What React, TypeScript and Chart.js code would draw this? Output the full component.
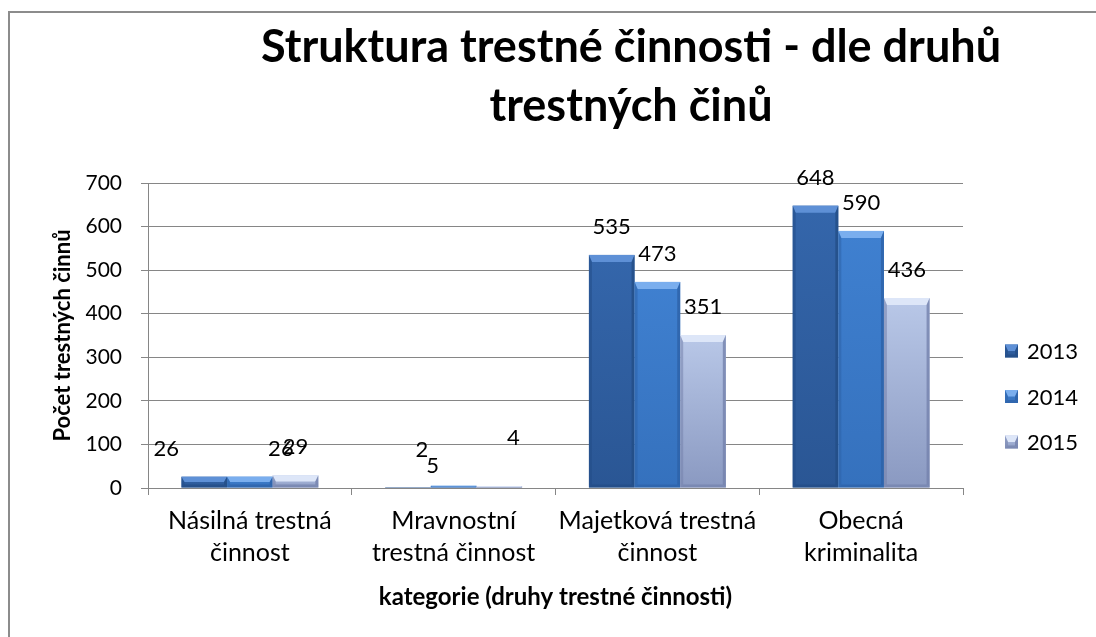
import { useEffect, useRef } from "react";
import { Chart, registerables } from "chart.js";

Chart.register(...registerables);

// ---- data ----
const categories: string[][] = [
  ["Násilná trestná", "činnost"],
  ["Mravnostní", "trestná činnost"],
  ["Majetková trestná", "činnost"],
  ["Obecná", "kriminalita"],
];
const years = ["2013", "2014", "2015"];
const values2013 = [26, 2, 535, 648];
const values2014 = [26, 5, 473, 590];
const values2015 = [29, 4, 351, 436];
const yMin = 0;
const yMax = 700;
const yStep = 100;
const chartTitle = ["Struktura trestné činnosti - dle druhů", "trestných činů"];
const yTitle = "Počet trestných činnů";
const xTitle = "kategorie (druhy trestné činnosti)";

// ---- styles ----
const FONT = "Lato";
const barColors = [
  { top: "#3466ab", bottom: "#2a5694", bevel: "#5e90d6", side: "#234d86" },
  { top: "#3f80d0", bottom: "#3571bd", bevel: "#7aaeee", side: "#2d62a8" },
  { top: "#b9c8e8", bottom: "#8a99c1", bevel: "#dde6f8", side: "#7482ac" },
];
// label nudges (px) per dataset / category, mimicking the original label placement
const labelNudges = [
  [[-38, 0], [14, -9], [0, 0], [0, 0]],
  [[31, 0], [-21, 8], [0, 0], [0, 0]],
  [[0, 0], [14, -20], [0, 0], [0, 0]],
];

function drawBevelBox(ctx: CanvasRenderingContext2D, l: number, t: number, r: number, b: number, c: any) {
  const h = b - t;
  const w = r - l;
  if (h <= 0 || w <= 0) return;
  const g = ctx.createLinearGradient(0, t, 0, b);
  g.addColorStop(0, c.top);
  g.addColorStop(1, c.bottom);
  ctx.fillStyle = g;
  ctx.fillRect(l, t, w, h);
  const tv = Math.min(7, h / 2);
  const sv = Math.min(3, w / 2, h / 2);
  const bv = Math.min(3, h / 2);
  ctx.fillStyle = c.bevel;
  ctx.beginPath();
  ctx.moveTo(l, t);
  ctx.lineTo(r, t);
  ctx.lineTo(r - sv, t + tv);
  ctx.lineTo(l + sv, t + tv);
  ctx.closePath();
  ctx.fill();
  ctx.fillStyle = c.side;
  ctx.globalAlpha = 0.55;
  ctx.beginPath();
  ctx.moveTo(l, t);
  ctx.lineTo(l + sv, t + tv);
  ctx.lineTo(l + sv, b - bv);
  ctx.lineTo(l, b);
  ctx.closePath();
  ctx.fill();
  ctx.globalAlpha = 0.8;
  ctx.beginPath();
  ctx.moveTo(r, t);
  ctx.lineTo(r - sv, t + tv);
  ctx.lineTo(r - sv, b - bv);
  ctx.lineTo(r, b);
  ctx.closePath();
  ctx.fill();
  ctx.globalAlpha = 0.7;
  ctx.beginPath();
  ctx.moveTo(l, b);
  ctx.lineTo(r, b);
  ctx.lineTo(r - sv, b - bv);
  ctx.lineTo(l + sv, b - bv);
  ctx.closePath();
  ctx.fill();
  ctx.globalAlpha = 1;
}

const decorPlugin = {
  id: "decor",
  beforeDraw(chart: any) {
    const ctx = chart.ctx;
    ctx.save();
    ctx.fillStyle = "#ffffff";
    ctx.fillRect(0, 0, chart.width, chart.height);
    ctx.strokeStyle = "#8c8c8c";
    ctx.lineWidth = 2;
    ctx.strokeRect(9, 12, chart.width + 20, chart.height + 20);
    ctx.fillStyle = "#000";
    ctx.font = `bold 45px ${FONT}`;
    ctx.textAlign = "center";
    ctx.textBaseline = "middle";
    ctx.fillText(chartTitle[0], 631, 47);
    ctx.fillText(chartTitle[1], 631, 106);
    ctx.font = `22px ${FONT}`;
    ctx.textAlign = "left";
    years.forEach((yr, i) => {
      const cy = 351 + i * 45.5;
      drawBevelBox(ctx, 1005, cy - 6.5, 1018, cy + 6.5, barColors[i]);
      ctx.fillStyle = "#000";
      ctx.fillText(yr, 1027, cy + 1);
    });
    ctx.restore();
  },
  afterDatasetsDraw(chart: any) {
    const ctx = chart.ctx;
    ctx.save();
    chart.data.datasets.forEach((ds: any, di: number) => {
      const meta = chart.getDatasetMeta(di);
      meta.data.forEach((el: any) => {
        const p = el.getProps(["x", "y", "base", "width"], true);
        drawBevelBox(ctx, p.x - p.width / 2, p.y, p.x + p.width / 2, p.base, barColors[di]);
      });
    });
    ctx.font = `22px ${FONT}`;
    ctx.fillStyle = "#000";
    ctx.textAlign = "center";
    ctx.textBaseline = "middle";
    chart.data.datasets.forEach((ds: any, di: number) => {
      const meta = chart.getDatasetMeta(di);
      meta.data.forEach((el: any, i: number) => {
        const p = el.getProps(["x", "y"], true);
        const [dx, dy] = labelNudges[di][i];
        ctx.fillText(String(ds.data[i]), p.x + dx, p.y - 28 + dy);
      });
    });
    ctx.restore();
  },
};

export default function App() {
  const ref = useRef<HTMLCanvasElement | null>(null);
  useEffect(() => {
    document.body.style.margin = "0";
    if (!ref.current) return;
    const grid = "#868686";
    const chart = new Chart(ref.current, {
      type: "bar",
      data: {
        labels: categories,
        datasets: [
          { label: years[0], data: values2013, backgroundColor: "rgba(0,0,0,0)" },
          { label: years[1], data: values2014, backgroundColor: "rgba(0,0,0,0)" },
          { label: years[2], data: values2015, backgroundColor: "rgba(0,0,0,0)" },
        ],
      },
      options: {
        responsive: false,
        animation: false,
        layout: { padding: { top: 183, right: 133, bottom: 0, left: 0 } },
        datasets: { bar: { categoryPercentage: 0.672, barPercentage: 1 } },
        plugins: {
          legend: { display: false },
          title: { display: false },
          tooltip: { enabled: false },
        },
        scales: {
          x: {
            afterFit: (s: any) => { s.height = 149; },
            grid: { offset: true, drawOnChartArea: false, drawTicks: true, tickLength: 7, color: grid },
            border: { display: true, color: grid, width: 1 },
            ticks: { color: "#000", font: { family: FONT, size: 25, lineHeight: 1.28 }, padding: 10, maxRotation: 0, autoSkip: false },
            title: { display: true, text: xTitle, color: "#000", font: { family: FONT, size: 24, weight: "bold" }, padding: { top: 0, bottom: 25 } },
          },
          y: {
            min: yMin,
            max: yMax,
            afterFit: (s: any) => { s.width = 148; },
            grid: { color: grid, tickLength: 7, drawTicks: true },
            border: { display: true, color: grid, width: 1 },
            ticks: { stepSize: yStep, color: "#000", font: { family: FONT, size: 21 }, padding: 19 },
            title: { display: true, text: yTitle, color: "#000", font: { family: FONT, size: 22, weight: "bold" }, padding: { top: 50, bottom: 0 } },
          },
        },
      },
      plugins: [decorPlugin],
    });
    return () => chart.destroy();
  }, []);
  return (
    <div style={{ width: 1096, height: 637 }}>
      <canvas ref={ref} width={1096} height={637} style={{ display: "block", width: 1096, height: 637 }} />
    </div>
  );
}
